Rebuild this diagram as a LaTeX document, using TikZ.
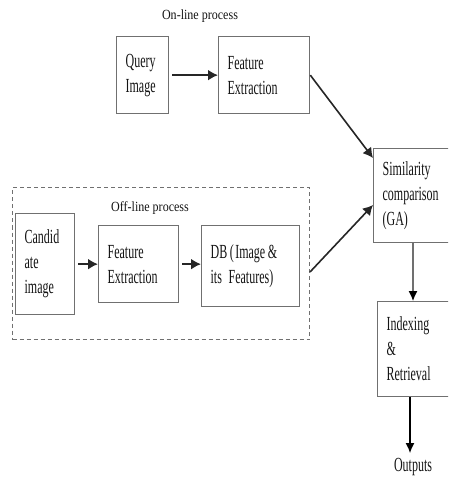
\documentclass[tikz,border=0pt]{standalone}
\usepackage{fontspec}
\setmainfont{Liberation Serif}[FakeStretch=0.6]
\newfontfamily\lblfont{Liberation Serif}[FakeStretch=0.86]
\usetikzlibrary{arrows.meta,calc}
\definecolor{boxgray}{HTML}{707070}
\definecolor{txt}{HTML}{141414}
\newcommand\myboxfont{\fontsize{20}{25}\selectfont}
\newcommand\mylblfont{\lblfont\fontsize{14}{16}\selectfont}
\begin{document}
\begin{tikzpicture}[x=1pt,y=-1pt,
  boxnode/.style={draw=boxgray,line width=1.3pt,anchor=north west,align=left,
    inner xsep=9pt,inner ysep=0pt,text=txt,font=\myboxfont},
  lbl/.style={text=txt,font=\mylblfont,inner sep=0pt},
  outlbl/.style={text=txt,font=\myboxfont,inner sep=0pt},
  thickarrow/.style={draw=black!85,line width=2pt,-{Latex[length=10pt,width=11pt]}},
  thinarrow/.style={draw=boxgray,line width=1.2pt,-{Latex[length=10pt,width=9pt,color=black]}},
  outarrow/.style={draw=black,line width=1.4pt,-{Latex[length=10pt,width=9pt]}}]
\useasboundingbox (0,0) rectangle (448,478);
\clip (0,0) rectangle (448,478);
% on-line
\node[lbl] (onl) at (200,16) {On-line process};
\node[boxnode,text width=34pt,minimum height=77pt] (q) at (116,36) {Query\\Image};
\node[boxnode,text width=73pt,minimum height=77pt] (fe1) at (218,36) {Feature\\Extraction};
% off-line
\node[draw=boxgray,dashed,line width=1pt,dash pattern=on 4pt off 3pt,anchor=north west,
  minimum width=297pt,minimum height=152pt,inner sep=0pt] (off) at (12,187) {};
\node[lbl] (offl) at (150,208) {Off-line process};
\node[boxnode,text width=41pt,minimum height=101pt] (cand) at (15,213) {Candid\\ate\\image};
\node[boxnode,text width=62pt,minimum height=77pt] (fe2) at (98,225) {Feature\\Extraction};
\node[boxnode,text width=80pt,minimum height=81pt] (db) at (201,225) {DB\hspace{2.5pt}(\hspace{1.5pt}Image\hspace{2.5pt}\&\\its Features)};
% right column
\node[boxnode,text width=82pt,minimum height=94pt] (sim) at (373,148) {Similarity\\comparison\\(GA)};
\node[boxnode,text width=82pt,minimum height=95pt] (idx) at (377,301) {Indexing\\\&\\Retrieval};
\node[outlbl] (outp) at (413,467) {Outputs};
% connectors
\draw[thickarrow,shorten <=3pt] (q.east) -- (fe1.west);
\draw[thickarrow,shorten <=3pt] (cand.east |- fe2.west) -- (fe2.west);
\draw[thickarrow,shorten <=3pt] (fe2.east) -- (db.west |- fe2.east);
\coordinate (simin1) at ($(sim.north west)+(0,10)$);
\coordinate (simin2) at ($(sim.north west)+(0,57)$);
\coordinate (offout) at ($(off.north east)+(0,85)$);
\draw[thickarrow,line width=1.6pt] (fe1.east) -- (simin1);
\draw[thickarrow,line width=1.6pt] (offout) -- (simin2);
\coordinate (simout) at ($(sim.south west)+(40,0)$);
\draw[thinarrow] (simout) -- (simout |- idx.north);
\coordinate (idxout) at ($(idx.south west)+(33,0)$);
\draw[outarrow] (idxout) -- ($(idxout |- outp.north)+(0,-5)$);
\end{tikzpicture}
\end{document}
